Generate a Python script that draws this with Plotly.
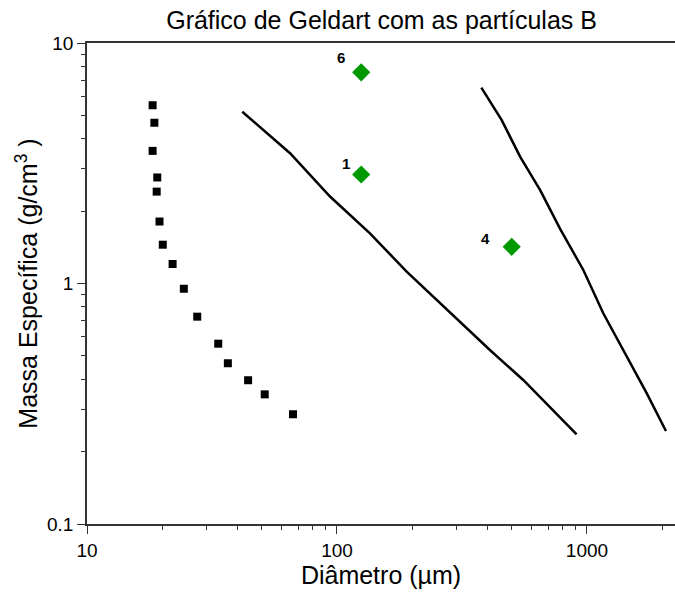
import numpy as np
import plotly.graph_objects as go

# Group C/A boundary data (black squares)
sq_d = [18.3, 18.6, 18.3, 19.1, 19.0, 19.5, 20.1, 22.0, 24.4, 27.6, 33.5, 36.6, 44.1, 51.4, 66.7]
sq_rho = [5.51, 4.66, 3.56, 2.76, 2.41, 1.81, 1.45, 1.205, 0.951, 0.728, 0.562, 0.466, 0.396, 0.346, 0.286]

# A/B boundary line
ab_d = [41.8, 64.9, 93.8, 135.5, 190, 258, 409, 556, 909]
ab_rho = [5.18, 3.48, 2.30, 1.617, 1.12, 0.827, 0.529, 0.397, 0.236]

# B/D boundary line
bd_d = [378, 456, 540, 649, 780, 967, 1162, 1397, 1733, 2070]
bd_rho = [6.52, 4.78, 3.37, 2.45, 1.69, 1.138, 0.752, 0.529, 0.35, 0.2435]

# Particles B
pt_d = [125, 125, 500]
pt_rho = [7.55, 2.84, 1.42]
pt_lab = ["6", "1", "4"]
lab_dx = [-20, -15, -26]
lab_dy = [15, 11, 8]

x_major = [10, 100, 1000]
x_minor = [m * 10**e for e in (1, 2, 3) for m in range(2, 10) if m * 10**e <= 2200]
y_major = [0.1, 1, 10]
y_minor = [m * 10**e for e in (-1, 0) for m in range(2, 10)]

FONT = "Liberation Sans"

fig = go.Figure()
fig.add_trace(go.Scatter(x=sq_d, y=sq_rho, mode="markers",
                         marker=dict(symbol="square", size=8, color="black"), showlegend=False))
fig.add_trace(go.Scatter(x=ab_d, y=ab_rho, mode="lines",
                         line=dict(color="black", width=2.5), showlegend=False))
fig.add_trace(go.Scatter(x=bd_d, y=bd_rho, mode="lines",
                         line=dict(color="black", width=2.5), showlegend=False))
fig.add_trace(go.Scatter(x=pt_d, y=pt_rho, mode="markers",
                         marker=dict(symbol="diamond", size=14, color="#009900"), showlegend=False))

for d, r, t, dx, dy in zip(pt_d, pt_rho, pt_lab, lab_dx, lab_dy):
    fig.add_annotation(x=np.log10(d), y=np.log10(r), text="<b>%s</b>" % t, showarrow=False,
                       xshift=dx, yshift=dy, font=dict(size=15, color="black", family=FONT))

axcol = "#333333"
fig.update_xaxes(type="log", range=[1, np.log10(2250)], tickmode="array", tickvals=x_major,
                 ticktext=["10", "100", "1000"], ticks="outside", ticklen=8, tickwidth=1.2,
                 tickcolor=axcol, showline=True, linecolor=axcol, linewidth=1.8, mirror=True,
                 showgrid=False, zeroline=False,
                 minor=dict(tickmode="array", tickvals=x_minor, ticks="outside", ticklen=4,
                            tickwidth=1.2, tickcolor=axcol, showgrid=False),
                 tickfont=dict(size=19, color="black", family=FONT),
                 title=dict(text="Diâmetro (µm)", font=dict(size=25, color="black", family=FONT),
                            standoff=3))
fig.update_yaxes(type="log", range=[-1, 1], tickmode="array", tickvals=y_major,
                 ticktext=["0.1", "1", "10"], ticks="outside", ticklen=8, tickwidth=1.2,
                 tickcolor=axcol, showline=True, linecolor=axcol, linewidth=1.8, mirror=False,
                 showgrid=False, zeroline=False,
                 minor=dict(tickmode="array", tickvals=y_minor, ticks="outside", ticklen=4,
                            tickwidth=1.2, tickcolor=axcol, showgrid=False),
                 tickfont=dict(size=19, color="black", family=FONT),
                 title=dict(text="Massa Específica (g/cm<sup>3</sup> )",
                            font=dict(size=25, color="black", family=FONT), standoff=2))

fig.update_layout(width=675, height=592, margin=dict(l=87, r=0, t=43, b=68),
                  plot_bgcolor="white", paper_bgcolor="white",
                  title=dict(text="Gráfico de Geldart com as partículas B", x=0.5653, xanchor="center",
                             y=0.966, yanchor="middle",
                             font=dict(size=25, color="black", family=FONT)))
fig.write_html("out.html")
